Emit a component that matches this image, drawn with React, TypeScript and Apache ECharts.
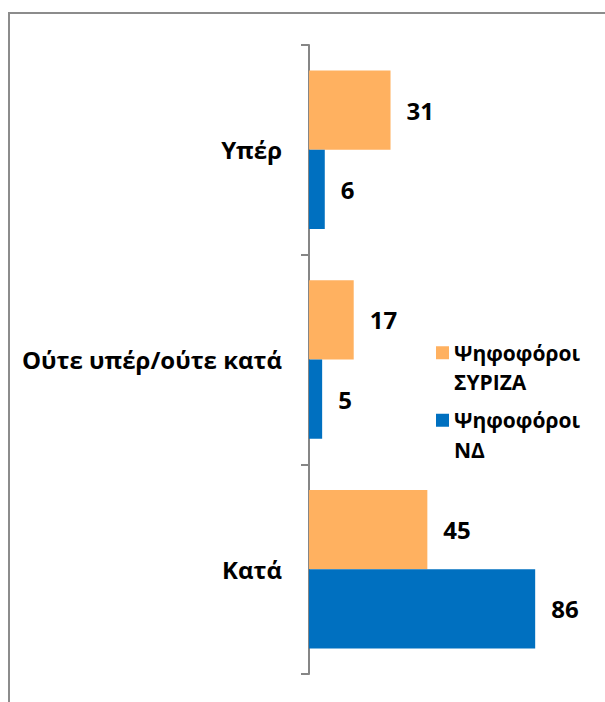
import React, { useEffect, useRef } from "react";
import * as echarts from "echarts";

const categories = ["Υπέρ", "Ούτε υπέρ/ούτε κατά", "Κατά"];
const seriesNames = ["Ψηφοφόροι ΣΥΡΙΖΑ", "Ψηφοφόροι ΝΔ"];
const syrizaValues = [31, 17, 45];
const ndValues = [6, 5, 86];

const ORANGE = "#FFB160";
const BLUE = "#0070C0";
const FONT = "'Open Sans', 'Noto Sans', sans-serif";

export default function App() {
  const ref = useRef<HTMLDivElement>(null);
  useEffect(() => {
    if (!ref.current) return;
    const chart = echarts.init(ref.current, undefined, { renderer: "svg" });
    const valueLabel = {
      show: true,
      position: "right",
      distance: 16,
      color: "#000",
      fontFamily: FONT,
      fontWeight: "bold",
      fontSize: 24,
    };
    chart.setOption({
      animation: false,
      backgroundColor: "#fff",
      textStyle: { fontFamily: FONT },
      graphic: [
        {
          type: "rect",
          shape: { x: 9, y: 13, width: 800, height: 900 },
          style: { fill: "none", stroke: "#8c8c8c", lineWidth: 2 },
          silent: true,
        },
      ],
      grid: { left: 309, top: 45, width: 263, height: 629, containLabel: false },
      xAxis: {
        type: "value",
        min: 0,
        max: 100,
        show: false,
        splitLine: { show: false },
      },
      yAxis: {
        type: "category",
        data: categories,
        inverse: true,
        axisLine: { show: true, lineStyle: { color: "#868686", width: 2 } },
        axisTick: { show: true, length: 8, lineStyle: { color: "#868686", width: 2 } },
        axisLabel: {
          margin: 27,
          color: "#000",
          fontFamily: FONT,
          fontWeight: "bold",
          fontSize: 24,
        },
      },
      legend: {
        orient: "vertical",
        left: 436,
        top: 308.5,
        padding: 0,
        itemWidth: 13,
        itemHeight: 13,
        itemGap: -21,
        icon: "rect",
        data: seriesNames,
        formatter: (name: string) => "\n" + name.replace(" ", "\n"),
        textStyle: {
          fontFamily: FONT,
          fontWeight: "bold",
          fontSize: 21,
          color: "#000",
          lineHeight: 29.5,
        },
      },
      series: [
        {
          name: seriesNames[0],
          type: "bar",
          data: syrizaValues,
          itemStyle: { color: ORANGE },
          barGap: "0%",
          barCategoryGap: "24.4%",
          label: valueLabel,
        },
        {
          name: seriesNames[1],
          type: "bar",
          data: ndValues,
          itemStyle: { color: BLUE },
          barGap: "0%",
          barCategoryGap: "24.4%",
          label: valueLabel,
        },
      ],
    });
    return () => chart.dispose();
  }, []);
  return (
    <div
      ref={ref}
      style={{ position: "absolute", left: 0, top: 0, width: 605, height: 702, background: "#fff" }}
    />
  );
}
